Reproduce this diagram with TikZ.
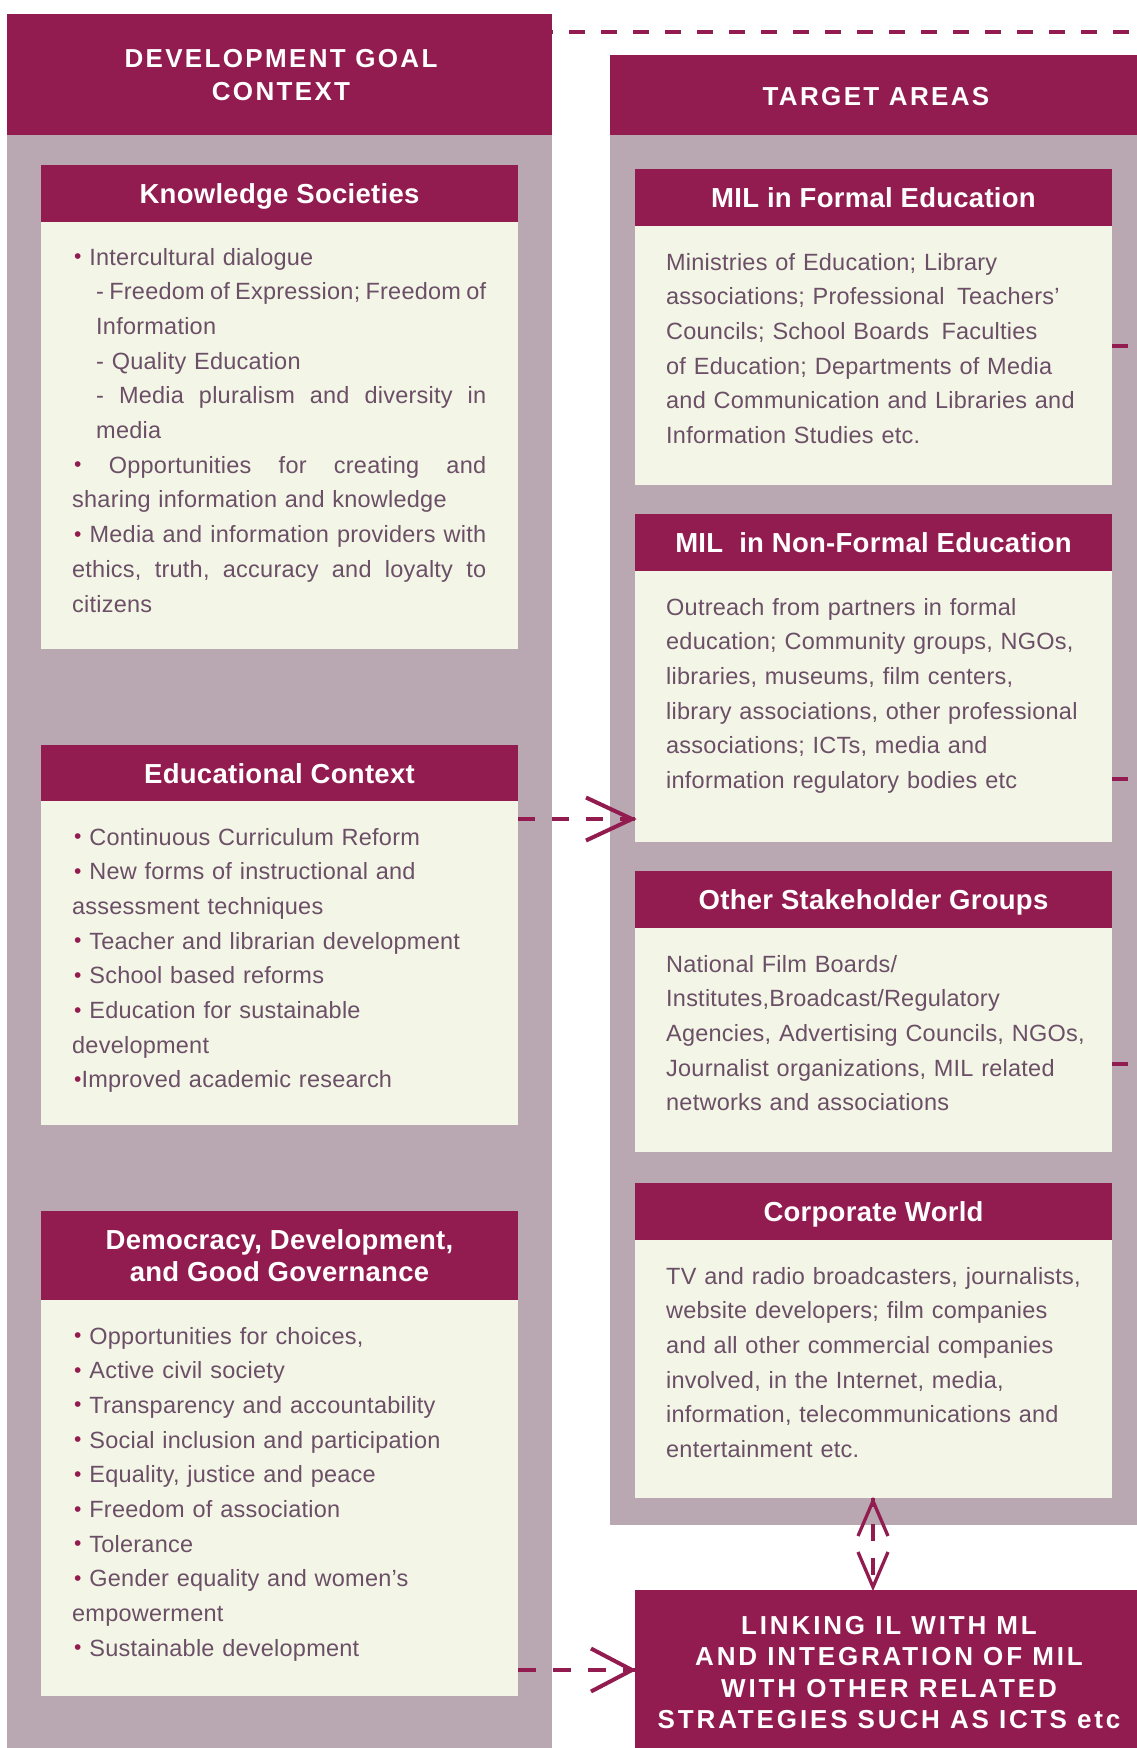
\documentclass[tikz,border=0pt]{standalone}
\usepackage{fontspec}
\setmainfont{Liberation Sans}
\newfontfamily\bodyfont[LetterSpace=1]{Liberation Sans}
\newfontfamily\hfont[LetterSpace=1]{Liberation Sans}
\newfontfamily\capfont[LetterSpace=9]{Liberation Sans}
\newfontfamily\linkfont[LetterSpace=11]{Liberation Sans}
\definecolor{maroon}{HTML}{921B50}
\definecolor{panelgray}{HTML}{B9A8B2}
\definecolor{cream}{HTML}{F3F5E6}
\definecolor{textcol}{HTML}{6B4F66}
\newcommand\bul{\hspace*{2pt}\textcolor{maroon}{\raisebox{1.5pt}{\fontsize{21}{21}\selectfont •}}}
\newcommand\js{\hspace{0.2em plus 1fil}}
\begin{document}
\begin{tikzpicture}[x=1pt,y=-1pt,
  panel/.style={fill=panelgray, draw=none, inner sep=0pt, anchor=north west},
  hdrbox/.style={fill=maroon, draw=none, inner sep=0pt, anchor=north west},
  bodybox/.style={fill=cream, draw=none, inner sep=0pt, anchor=north west},
  hdtxt/.style={anchor=base, inner sep=0pt, text=white, font=\hfont\bfseries\fontsize{27.5}{32}\selectfont},
  captxt/.style={anchor=base, inner sep=0pt, text=white, font=\capfont\bfseries\fontsize{26}{30}\selectfont},
  linktxt/.style={anchor=base, inner sep=0pt, text=white, font=\linkfont\bfseries\fontsize{26}{30}\selectfont},
  bodytxt/.style={anchor=base west, inner sep=0pt, text width=440pt, align=left, text=textcol, font=\bodyfont\fontsize{23.5}{34.7}\selectfont},
  dashcon/.style={draw=maroon, line width=4pt},
  chev/.style={draw=maroon, line width=4pt, line join=miter},
  tickline/.style={draw=maroon, line width=4pt}
]
\useasboundingbox (0,0) rectangle (1137,1748);
\fill[white] (0,0) rectangle (1137,1748);

% panels
\node[panel, minimum width=545pt, minimum height=1734pt] (lp) at (7,14) {};
\node[panel, minimum width=527pt, minimum height=1470pt] (rp) at (610,55) {};
\node[hdrbox, minimum width=545pt, minimum height=121pt] (lh) at (7,14) {};
\node[hdrbox, minimum width=527pt, minimum height=80pt] (rh) at (610,55) {};
\node[captxt] (lht1) at (281,67.5) {DEVELOPMENT GOAL};
\node[captxt] (lht2) at (281,100.5) {CONTEXT};
\node[captxt] (rht) at (876,105.5) {TARGET AREAS};

% top dashed line
\coordinate (topend) at (1137,32);
\draw[dashcon, dash pattern=on 16pt off 16pt, dash phase=15pt] (lh.east |- topend) -- (topend);

% ---------- left boxes ----------
\node[hdrbox, minimum width=477pt, minimum height=57pt] (ksh) at (41,165) {};
\node[bodybox, minimum width=477pt, minimum height=427pt] (ksb) at (41,222) {};
\node[hdtxt] (kst) at (279.5,203.5) {Knowledge Societies};
\node[bodytxt] (ksx) at (72,265) {%
\bul{} Intercultural dialogue\\
\hspace*{24pt}\makebox[390pt][s]{-\js Freedom\js of\js Expression;\js Freedom\js of}\\
\hspace*{24pt}Information\\
\hspace*{24pt}- Quality Education\\
\hspace*{24pt}\makebox[390pt][s]{-\js Media\js pluralism\js and\js diversity\js in}\\
\hspace*{24pt}media\\
\makebox[414pt][s]{\bul\js Opportunities\js for\js creating\js and}\\
sharing information and knowledge\\
\makebox[414pt][s]{\bul\js Media\js and\js information\js providers\js with}\\
\makebox[414pt][s]{ethics,\js truth,\js accuracy\js and\js loyalty\js to}\\
citizens};

\node[hdrbox, minimum width=477pt, minimum height=56pt] (edh) at (41,745) {};
\node[bodybox, minimum width=477pt, minimum height=324pt] (edb) at (41,801) {};
\node[hdtxt] (edt) at (279.5,783) {Educational Context};
\node[bodytxt] (edx) at (72,845) {%
\bul{} Continuous Curriculum Reform\\
\bul{} New forms of instructional and\\
assessment techniques\\
\bul{} Teacher and librarian development\\
\bul{} School based reforms\\
\bul{} Education for sustainable\\
development\\
\bul Improved academic research};

\node[hdrbox, minimum width=477pt, minimum height=89pt] (dmh) at (41,1211) {};
\node[bodybox, minimum width=477pt, minimum height=396pt] (dmb) at (41,1300) {};
\node[hdtxt] (dmt1) at (279.5,1249) {Democracy, Development,};
\node[hdtxt] (dmt2) at (279.5,1281) {and Good Governance};
\node[bodytxt] (dmx) at (72,1344) {%
\bul{} Opportunities for choices,\\
\bul{} Active civil society\\
\bul{} Transparency and accountability\\
\bul{} Social inclusion and participation\\
\bul{} Equality, justice and peace\\
\bul{} Freedom of association\\
\bul{} Tolerance\\
\bul{} Gender equality and women’s\\
empowerment\\
\bul{} Sustainable development};

% ---------- right boxes ----------
\node[hdrbox, minimum width=477pt, minimum height=57pt] (fh) at (635,169) {};
\node[bodybox, minimum width=477pt, minimum height=259pt] (fb) at (635,226) {};
\node[hdtxt] (ft) at (873.5,207) {MIL in Formal Education};
\node[bodytxt] (fx) at (666,270) {%
Ministries of Education; Library\\
associations; Professional\hspace{0.2em} Teachers’\\
Councils; School Boards\hspace{0.2em} Faculties\\
of Education; Departments of Media\\
and Communication and Libraries and\\
Information Studies etc.};

\node[hdrbox, minimum width=477pt, minimum height=57pt] (nfh) at (635,514) {};
\node[bodybox, minimum width=477pt, minimum height=271pt] (nfb) at (635,571) {};
\node[hdtxt] (nft) at (873.5,552) {MIL\hspace{0.3em} in Non-Formal Education};
\node[bodytxt] (nfx) at (666,615) {%
Outreach from partners in formal\\
education; Community groups, NGOs,\\
libraries, museums, film centers,\\
library associations, other professional\\
associations; ICTs, media and\\
information regulatory bodies etc};

\node[hdrbox, minimum width=477pt, minimum height=57pt] (sh) at (635,871) {};
\node[bodybox, minimum width=477pt, minimum height=224pt] (sb) at (635,928) {};
\node[hdtxt] (st) at (873.5,909) {Other Stakeholder Groups};
\node[bodytxt] (sx) at (666,972) {%
National Film Boards/\\
Institutes,Broadcast/Regulatory\\
Agencies, Advertising Councils, NGOs,\\
Journalist organizations, MIL related\\
networks and associations};

\node[hdrbox, minimum width=477pt, minimum height=57pt] (ch) at (635,1183) {};
\node[bodybox, minimum width=477pt, minimum height=258pt] (cb) at (635,1240) {};
\node[hdtxt] (ct) at (873.5,1221) {Corporate World};
\node[bodytxt] (cx) at (666,1284) {%
TV and radio broadcasters, journalists,\\
website developers; film companies\\
and all other commercial companies\\
involved, in the Internet, media,\\
information, telecommunications and\\
entertainment etc.};

% linking box
\node[hdrbox, minimum width=502pt, minimum height=158pt] (lk) at (635,1590) {};
\node[linktxt] (lk1) at (889,1634) {LINKING IL WITH ML};
\node[linktxt] (lk2) at (889,1665.5) {AND INTEGRATION OF MIL};
\node[linktxt] (lk3) at (889,1697) {WITH OTHER RELATED};
\node[linktxt] (lk4) at (889,1728.5) {STRATEGIES SUCH AS ICTS etc};

% ticks on right
\coordinate (t1) at (1128,346);
\coordinate (t2) at (1128,779);
\coordinate (t3) at (1128,1064);
\draw[tickline] (fb.east |- t1) -- (t1);
\draw[tickline] (nfb.east |- t2) -- (t2);
\draw[tickline] (sb.east |- t3) -- (t3);

% educational arrow
\coordinate (ea) at (0,819);
\coordinate (eatip) at (632,819);
\draw[dashcon, dash pattern=on 17pt off 17pt] (edb.east |- ea) -- (nfb.west |- ea);
\draw[chev] (eatip) ++(-46,-21.5) -- (eatip) -- ++(-46,21.5);

% democracy arrow
\coordinate (da) at (0,1670);
\coordinate (datip) at (632,1670);
\draw[dashcon, dash pattern=on 17.5pt off 17.5pt] (dmb.east |- da) -- (lk.west |- da);
\draw[chev] (datip) ++(-41,-21.5) -- (datip) -- ++(-41,21.5);

% vertical double arrow
\coordinate (vx) at (873,0);
\coordinate (vtop) at (873,1501);
\coordinate (vbot) at (873,1587);
\draw[dashcon, line width=3.5pt, dash pattern=on 17pt off 17pt, dash phase=8pt] (cb.south -| vx) -- (lk.north -| vx);
\draw[chev, line width=3.3pt] (vtop) ++(-15,35) -- (vtop) -- ++(15,35);
\draw[chev, line width=3.3pt] (vbot) ++(-15,-35) -- (vbot) -- ++(15,-35);
\end{tikzpicture}
\end{document}
